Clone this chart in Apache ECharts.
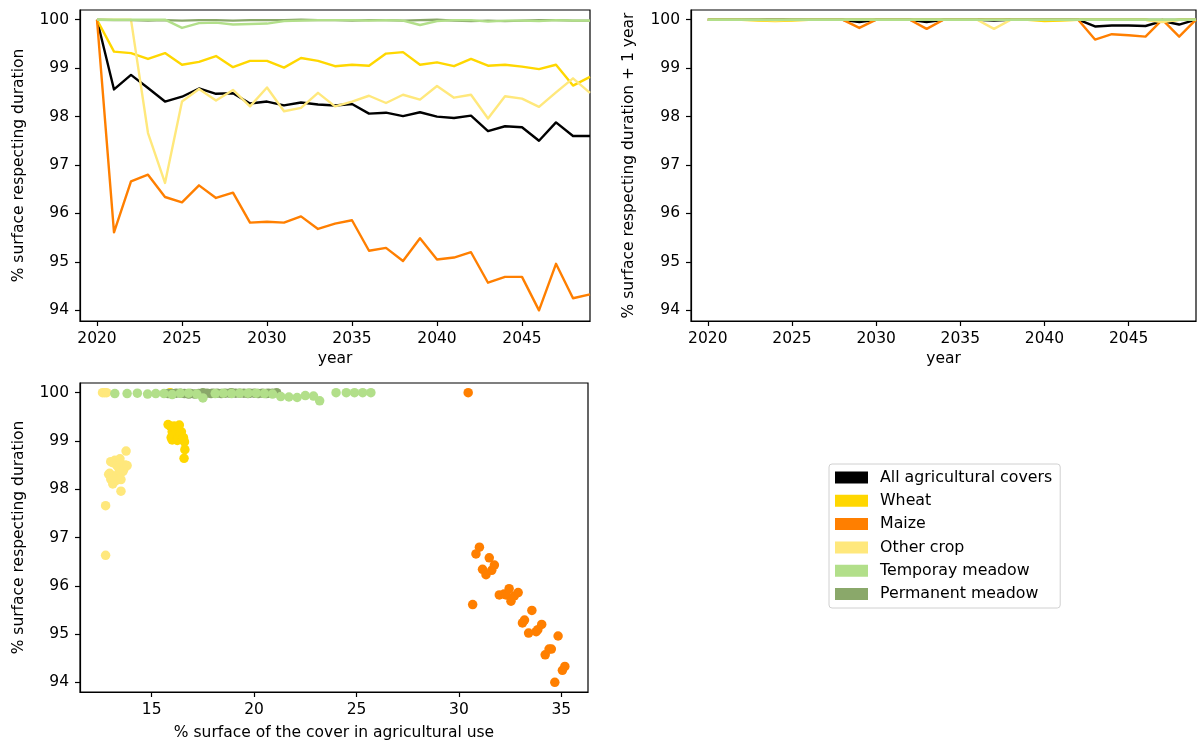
<!DOCTYPE html>
<html>
<head>
<meta charset="utf-8">
<title>Surface respecting duration</title>
<script src="https://cdn.jsdelivr.net/npm/echarts@6.0.0/dist/echarts.min.js"></script>
<style>
html, body { margin: 0; padding: 0; background: #fff; }
#main { width: 1200px; height: 742px; }
</style>
</head>
<body>
<div id="main"></div>
<script>
// data
const years = [2020, 2021, 2022, 2023, 2024, 2025, 2026, 2027, 2028, 2029,
  2030, 2031, 2032, 2033, 2034, 2035, 2036, 2037, 2038, 2039,
  2040, 2041, 2042, 2043, 2044, 2045, 2046, 2047, 2048, 2049];

// % surface respecting duration
const allRespect = [100, 98.56, 98.86, 98.59, 98.31, 98.41, 98.58, 98.47, 98.48, 98.27,
  98.31, 98.23, 98.29, 98.25, 98.23, 98.26, 98.06, 98.08, 98.01, 98.09,
  98.00, 97.97, 98.02, 97.70, 97.80, 97.78, 97.50, 97.88, 97.60, 97.60];
const wheatRespect = [100, 99.34, 99.31, 99.19, 99.31, 99.07, 99.13, 99.25, 99.02, 99.15,
  99.15, 99.01, 99.21, 99.15, 99.04, 99.07, 99.05, 99.30, 99.33, 99.07,
  99.12, 99.04, 99.19, 99.05, 99.07, 99.03, 98.98, 99.07, 98.64, 98.82];
const maizeRespect = [100, 95.61, 96.66, 96.80, 96.34, 96.23, 96.58, 96.32, 96.43, 95.81,
  95.83, 95.81, 95.94, 95.68, 95.79, 95.86, 95.23, 95.29, 95.02, 95.49,
  95.05, 95.09, 95.20, 94.57, 94.69, 94.69, 94.00, 94.96, 94.25, 94.33];
const otherRespect = [100, 100, 100, 97.66, 96.63, 98.31, 98.57, 98.33, 98.55, 98.21,
  98.60, 98.11, 98.18, 98.49, 98.21, 98.31, 98.43, 98.28, 98.45, 98.35,
  98.63, 98.39, 98.45, 97.96, 98.42, 98.37, 98.20, 98.50, 98.79, 98.49];
const tempRespect = [100, 100, 100, 100, 100, 99.83, 99.93, 99.94, 99.90, 99.91,
  99.92, 99.97, 99.98, 99.99, 99.99, 99.99, 99.98, 99.99, 99.98, 99.89,
  99.97, 99.99, 99.99, 99.96, 99.98, 99.98, 99.97, 99.99, 99.98, 99.98];
const permRespect = [100, 99.99, 99.99, 99.98, 99.99, 99.98, 99.99, 99.99, 99.98, 99.99,
  99.99, 99.99, 100, 99.99, 99.99, 99.98, 99.99, 99.99, 99.98, 99.99,
  100, 99.98, 99.97, 99.98, 99.97, 99.98, 99.99, 99.99, 99.98, 99.98];

// % surface respecting duration + 1 year
const allRespect1 = [100, 100, 100, 100, 100, 100, 100, 100, 100, 99.95,
  100, 100, 100, 99.95, 100, 100, 100, 99.98, 100, 100,
  100, 100, 100, 99.86, 99.88, 99.88, 99.87, 99.97, 99.90, 100];
const wheatRespect1 = [100, 100, 100, 99.98, 99.97, 99.98, 100, 100, 100, 100,
  100, 100, 100, 100, 100, 100, 100, 100, 100, 100,
  99.97, 99.98, 100, 100, 100, 100, 100, 99.96, 100, 100];
const maizeRespect1 = [100, 100, 100, 100, 100, 100, 100, 100, 100, 99.83,
  100, 100, 100, 99.81, 100, 100, 100, 100, 100, 100,
  100, 100, 100, 99.59, 99.70, 99.68, 99.65, 100, 99.65, 100];
const otherRespect1 = [100, 100, 100, 100, 99.98, 100, 100, 100, 100, 100,
  100, 100, 100, 100, 100, 100, 100, 99.81, 100, 100,
  100, 100, 100, 100, 100, 100, 100, 99.95, 100, 100];
const tempRespect1 = [100, 100, 100, 100, 100, 100, 100, 100, 100, 100,
  100, 100, 100, 100, 100, 100, 100, 100, 100, 100,
  100, 100, 100, 100, 100, 100, 100, 100, 100, 100];
const permRespect1 = [100, 100, 100, 100, 100, 100, 100, 100, 100, 100,
  100, 100, 100, 100, 100, 100, 100, 100, 100, 100,
  100, 100, 100, 100, 100, 100, 100, 100, 100, 100];

// % surface of the cover in agricultural use
const wheatShare = [15.9, 15.8, 15.9, 16.0, 16.1, 15.95, 16.05, 16.2, 16.0, 16.1,
  16.15, 16.25, 16.3, 16.2, 16.35, 16.3, 16.4, 16.3, 16.35, 16.45,
  16.4, 16.5, 16.45, 16.55, 16.5, 16.55, 16.6, 16.55, 16.58, 16.62];
const maizeShare = [30.45, 30.67, 30.83, 31.0, 31.15, 31.32, 31.48, 31.6, 31.73, 31.97,
  32.2, 32.3, 32.45, 32.54, 32.7, 32.89, 33.1, 33.2, 33.4, 33.56,
  33.77, 33.85, 34.04, 34.21, 34.4, 34.51, 34.68, 34.84, 35.05, 35.17];
const otherShare = [12.6, 12.7, 12.8, 12.75, 12.75, 12.9, 13.0, 12.95, 13.1, 13.0,
  13.2, 13.1, 13.25, 13.3, 13.2, 13.35, 13.4, 13.3, 13.45, 13.5,
  13.45, 13.55, 13.6, 13.5, 13.65, 13.6, 13.5, 13.7, 13.75, 13.8];
const tempShare = [25.7, 25.3, 24.9, 24.5, 24.0, 23.2, 22.9, 22.5, 22.1, 21.7,
  21.3, 20.9, 20.5, 20.1, 19.7, 19.3, 18.9, 18.5, 18.1, 17.5,
  17.2, 16.8, 16.4, 16.0, 15.6, 15.2, 14.8, 14.3, 13.8, 13.2];
const permShare = [21.1, 20.9, 20.7, 20.6, 20.4, 20.2, 20.0, 19.8, 19.7, 19.5,
  19.3, 19.1, 18.9, 18.8, 18.6, 18.4, 18.2, 18.0, 17.9, 17.7,
  17.5, 17.3, 17.1, 16.9, 16.8, 16.6, 16.4, 16.2, 16.0, 15.8];

// tick labels
const yTicks = [94, 95, 96, 97, 98, 99, 100];
const yearTicks = [2020, 2025, 2030, 2035, 2040, 2045];
const shareTicks = [15, 20, 25, 30, 35];

const covers = [
  { name: 'All agricultural covers', color: '#000000', r: allRespect, r1: allRespect1, share: null },
  { name: 'Wheat', color: '#FFD700', r: wheatRespect, r1: wheatRespect1, share: wheatShare },
  { name: 'Maize', color: '#FF7F00', r: maizeRespect, r1: maizeRespect1, share: maizeShare },
  { name: 'Other crop', color: '#FFE87C', r: otherRespect, r1: otherRespect1, share: otherShare },
  { name: 'Permanent meadow', color: '#8AA86A', r: permRespect, r1: permRespect1, share: permShare },
  { name: 'Temporay meadow', color: '#B2DF8A', r: tempRespect, r1: tempRespect1, share: tempShare }
];

const FONT = 'DejaVu Sans';
const FS = 15.5;

function zip(xs, ys) {
  return xs.map((x, i) => [x, ys[i]]);
}

function axis(gridIndex, min, max, ticks, name, nameGap, margin) {
  return {
    type: 'value',
    gridIndex: gridIndex,
    min: min,
    max: max,
    name: name,
    nameLocation: 'middle',
    nameGap: nameGap,
    nameTextStyle: { fontFamily: FONT, fontSize: FS, color: '#000' },
    axisLine: { show: true, onZero: false, lineStyle: { color: '#000', width: 1.2 } },
    axisTick: { show: true, length: 5, customValues: ticks, lineStyle: { color: '#000', width: 1.2 } },
    axisLabel: {
      customValues: ticks, margin: margin, color: '#000', fontFamily: FONT, fontSize: FS,
      formatter: v => String(v)
    },
    splitLine: { show: false }
  };
}

const gridStyle = { show: true, borderColor: '#000', borderWidth: 1.2, backgroundColor: 'transparent' };

const series = [];
covers.forEach(c => {
  series.push({
    name: c.name, type: 'line', xAxisIndex: 0, yAxisIndex: 0, color: c.color,
    data: zip(years, c.r), showSymbol: false, symbol: 'none',
    lineStyle: { width: 2.4, join: 'round' }
  });
  series.push({
    name: c.name, type: 'line', xAxisIndex: 1, yAxisIndex: 1, color: c.color,
    data: zip(years, c.r1), showSymbol: false, symbol: 'none',
    lineStyle: { width: 2.4, join: 'round' }
  });
  if (c.share) {
    series.push({
      name: c.name, type: 'scatter', xAxisIndex: 2, yAxisIndex: 2, color: c.color,
      data: zip(c.share, c.r), symbolSize: 9.5,
      itemStyle: { opacity: 1 }
    });
  }
});

const chart = echarts.init(document.getElementById('main'));
chart.setOption({
  animation: false,
  grid: [
    Object.assign({ left: 80, top: 10, width: 510, height: 311 }, gridStyle),
    Object.assign({ left: 691, top: 10, width: 505, height: 311 }, gridStyle),
    Object.assign({ left: 80, top: 383, width: 508, height: 309 }, gridStyle)
  ],
  xAxis: [
    axis(0, 2019, 2049, yearTicks, 'year', 30, 10),
    axis(1, 2019, 2049, yearTicks, 'year', 30, 10),
    axis(2, 11.5, 36.3, shareTicks, '% surface of the cover in agricultural use', 33, 10)
  ],
  yAxis: [
    axis(0, 93.78, 100.2, yTicks, '% surface respecting duration', 53, 11),
    axis(1, 93.78, 100.2, yTicks, '% surface respecting duration + 1 year', 54, 11),
    axis(2, 93.8, 100.2, yTicks, '% surface respecting duration', 53, 11)
  ],
  legend: {
    orient: 'vertical',
    left: 829,
    top: 464,
    data: ['All agricultural covers', 'Wheat', 'Maize', 'Other crop', 'Temporay meadow', 'Permanent meadow'],
    icon: 'rect',
    itemWidth: 33,
    itemHeight: 12,
    itemGap: 5.3,
    padding: [4.5, 8, 5, 6],
    borderColor: '#d0d0d0',
    borderWidth: 1,
    borderRadius: 3,
    backgroundColor: '#fff',
    selectedMode: false,
    textStyle: { fontFamily: FONT, fontSize: 15.8, color: '#000', lineHeight: 18, padding: [0, 0, 0, 7] }
  },
  series: series
});
</script>
</body>
</html>
